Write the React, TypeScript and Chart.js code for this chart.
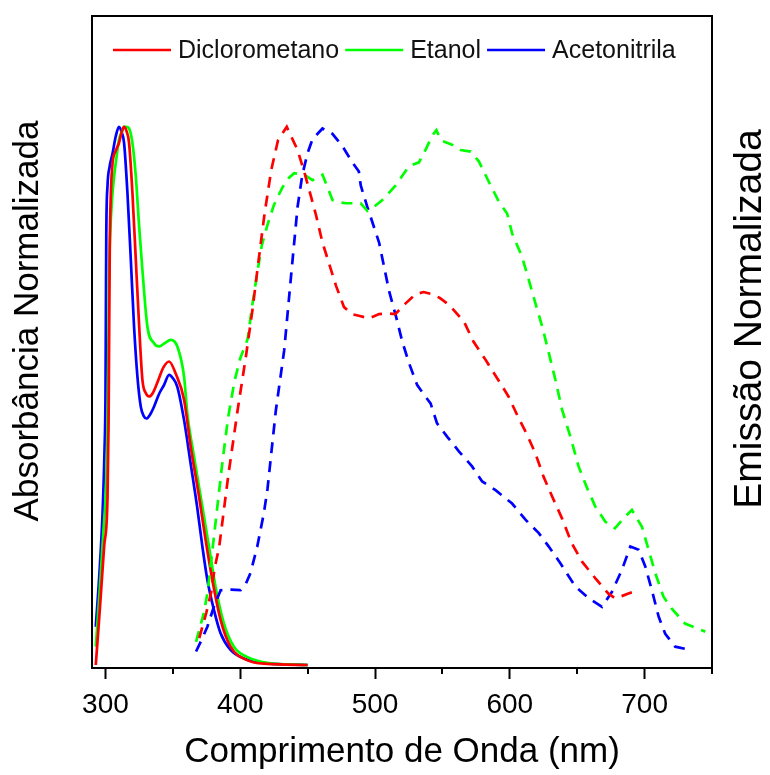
import React, { useEffect, useRef } from 'react';
import { Chart, registerables } from 'chart.js';

Chart.register(...registerables);

const FONT = "'Liberation Sans', Arial, Helvetica, sans-serif";

// ---- labels & colours ----
const seriesLabels = ['Diclorometano', 'Etanol', 'Acetonitrila'];
const seriesColors = ['#ff0000', '#00ff00', '#0000ff'];
const xAxisTitle = 'Comprimento de Onda (nm)';
const yLeftTitle = 'Absorbância Normalizada';
const yRightTitle = 'Emissão Normalizada';
const xMin = 290;
const xMax = 750;
const majorTickStep = 100;
const minorTickValues = [350, 450, 550, 650, 750];

// ---- absorption (solid) ----
const absDcmX = [292.8, 296, 299, 301.5, 302.3, 302.7, 303.2, 304, 305.2, 307.5, 310, 312, 313.8, 315.5, 317.5, 320, 322.5, 325, 327.4, 330, 332.4, 335, 338.5, 343, 347.2, 352, 358.3, 363.2, 369.4, 374.3, 379.3, 385.4, 392.8, 405, 420, 450];
const absDcmY = [0, 0.11, 0.22, 0.31, 0.45, 0.6, 0.78, 0.877, 0.932, 0.955, 0.97, 0.99, 1.0, 0.993, 0.97, 0.877, 0.753, 0.629, 0.53, 0.505, 0.499, 0.505, 0.525, 0.553, 0.564, 0.542, 0.493, 0.406, 0.313, 0.232, 0.158, 0.084, 0.034, 0.009, 0.002, 0];

const absEtOHX = [292.8, 296, 298.5, 300.5, 301.8, 302.5, 303.5, 305, 306.4, 308, 310, 312, 313.8, 315.5, 317.5, 320, 322.5, 325, 327.4, 331.1, 336, 339.8, 344, 348.4, 353.3, 358.3, 360.7, 365.7, 371.9, 376.8, 381.7, 387.9, 395.3, 405, 420, 450];
const absEtOHY = [0.034, 0.15, 0.25, 0.34, 0.5, 0.7, 0.8, 0.87, 0.908, 0.94, 0.976, 0.99, 1.0, 1.0, 0.997, 0.97, 0.908, 0.814, 0.734, 0.629, 0.598, 0.592, 0.598, 0.604, 0.592, 0.536, 0.468, 0.387, 0.294, 0.22, 0.145, 0.077, 0.034, 0.015, 0.004, 0];

const absMeCNX = [292.8, 295.5, 297.8, 299.3, 300.0, 300.3, 300.6, 301.5, 303, 305.2, 307.6, 310, 312, 313.8, 316.3, 318.8, 321.2, 323.7, 326.2, 328.5, 330.4, 333, 336, 340, 343.4, 347.2, 350, 353.3, 358.3, 363.2, 368, 371.9, 375.6, 380.5, 385.4, 392.8, 402.7, 420, 450];
const absMeCNY = [0.071, 0.17, 0.28, 0.4, 0.5, 0.65, 0.8, 0.89, 0.925, 0.95, 0.982, 1.0, 0.99, 0.97, 0.877, 0.753, 0.629, 0.536, 0.48, 0.462, 0.458, 0.465, 0.48, 0.505, 0.52, 0.539, 0.533, 0.517, 0.455, 0.374, 0.294, 0.22, 0.158, 0.102, 0.059, 0.028, 0.012, 0.003, 0];

// ---- emission (dashed) ----
const emDcmX = [369.6, 374.8, 378.5, 381, 384.4, 391, 398, 404, 409, 413.5, 418, 423, 428, 434.5, 442.5, 447.4, 452, 456, 461, 466, 471, 477, 483, 488, 495.6, 503, 510, 515, 522.7, 530, 536, 542.5, 548, 555, 566, 573, 582, 590.6, 599, 606.7, 612.8, 619, 625, 631.4, 638.8, 646, 653.6, 663.5, 673, 678, 683, 688, 692];
const emDcmY = [0.05, 0.097, 0.136, 0.18, 0.22, 0.35, 0.473, 0.57, 0.659, 0.75, 0.838, 0.92, 0.975, 1.0, 0.957, 0.917, 0.875, 0.838, 0.785, 0.745, 0.705, 0.665, 0.652, 0.649, 0.644, 0.652, 0.653, 0.652, 0.672, 0.689, 0.693, 0.689, 0.682, 0.669, 0.638, 0.601, 0.567, 0.533, 0.499, 0.458, 0.428, 0.393, 0.35, 0.313, 0.272, 0.226, 0.192, 0.161, 0.133, 0.124, 0.128, 0.133, 0.136];

const emEtOHX = [367.2, 373, 375.8, 381, 386.9, 391, 395.6, 400, 405.4, 409, 412.8, 416, 420.2, 425, 431.4, 436, 440, 447.4, 453.6, 461, 464.7, 468.4, 473, 478.3, 489.4, 494.3, 499, 505.4, 515.3, 525.2, 532.6, 538, 542.5, 545.5, 549, 554.8, 557, 563.4, 571, 577, 584.4, 591.9, 598, 601.7, 609, 614, 619, 624, 629, 633.8, 638.8, 645, 651, 657, 663.5, 670.9, 678, 685.7, 690.6, 698, 703, 708, 714, 720, 730, 745];
const emEtOHY = [0.043, 0.097, 0.136, 0.25, 0.38, 0.46, 0.526, 0.57, 0.605, 0.67, 0.732, 0.78, 0.818, 0.855, 0.888, 0.905, 0.914, 0.911, 0.901, 0.911, 0.888, 0.864, 0.86, 0.858, 0.858, 0.844, 0.851, 0.864, 0.891, 0.927, 0.934, 0.96, 0.984, 0.994, 0.975, 0.969, 0.967, 0.957, 0.954, 0.936, 0.898, 0.861, 0.839, 0.802, 0.759, 0.716, 0.672, 0.629, 0.579, 0.53, 0.474, 0.424, 0.369, 0.331, 0.294, 0.266, 0.254, 0.276, 0.288, 0.257, 0.214, 0.17, 0.127, 0.105, 0.077, 0.062];

const emMeCNX = [367.2, 371, 375.6, 380, 385.4, 393, 400.2, 404, 407.6, 412.6, 417.5, 420.2, 426.4, 432.6, 437.5, 442.5, 446, 449.9, 453.6, 461, 468.4, 475.8, 483.2, 488, 489.4, 494.3, 503, 510.4, 515.3, 520.2, 525.2, 531.3, 537, 541.2, 546, 553.6, 562.2, 572, 579.5, 589.4, 601.7, 611.6, 621.5, 628.9, 637.5, 648.6, 658.5, 668.4, 675.8, 683.2, 689.4, 695.6, 700.5, 705.4, 710.4, 715.3, 722.7, 733.8];
const emMeCNY = [0.025, 0.045, 0.071, 0.105, 0.139, 0.14, 0.139, 0.15, 0.171, 0.22, 0.282, 0.327, 0.473, 0.585, 0.718, 0.851, 0.91, 0.951, 0.977, 0.997, 0.987, 0.964, 0.934, 0.917, 0.891, 0.851, 0.785, 0.695, 0.65, 0.601, 0.561, 0.52, 0.5, 0.486, 0.449, 0.424, 0.397, 0.369, 0.341, 0.325, 0.3, 0.27, 0.245, 0.22, 0.189, 0.146, 0.124, 0.108, 0.136, 0.177, 0.22, 0.214, 0.183, 0.139, 0.09, 0.058, 0.034, 0.028];

const zip = (xs: number[], ys: number[]) => xs.map((x, i) => ({ x, y: ys[i] }));

const framePlugin = {
  id: 'frameTitlesLegend',
  afterDraw(chart: any) {
    const { ctx, chartArea } = chart;
    const { left, right, top, bottom } = chartArea;
    const xs = chart.scales.x;
    ctx.save();
    // frame
    ctx.strokeStyle = '#000';
    ctx.lineWidth = 2;
    ctx.setLineDash([]);
    ctx.strokeRect(left, top, right - left, bottom - top);
    // minor ticks
    for (const v of minorTickValues) {
      const px = Math.round(xs.getPixelForValue(v));
      ctx.beginPath();
      ctx.moveTo(px, bottom);
      ctx.lineTo(px, bottom + 6);
      ctx.stroke();
    }
    // y titles (both read bottom-to-top)
    ctx.fillStyle = '#000';
    ctx.textAlign = 'center';
    ctx.textBaseline = 'middle';
    ctx.font = `35px ${FONT}`;
    ctx.save();
    ctx.translate(left - 64, 321);
    ctx.rotate(-Math.PI / 2);
    ctx.fillText(yLeftTitle, 0, 0);
    ctx.restore();
    ctx.font = `39px ${FONT}`;
    ctx.save();
    ctx.translate(right + 38, 319);
    ctx.rotate(-Math.PI / 2);
    ctx.fillText(yRightTitle, 0, 0);
    ctx.restore();
    // legend (absorption series)
    ctx.font = `25px ${FONT}`;
    ctx.textAlign = 'left';
    const lineLen = 58;
    const gapLineText = 7;
    const gapItems = 6;
    const items = chart.data.datasets.filter((d: any) => d.showInLegend);
    let x = left + 21;
    const ly = top + 34;
    items.forEach((d: any) => {
      ctx.strokeStyle = d.borderColor;
      ctx.lineWidth = 2.4;
      ctx.beginPath();
      ctx.moveTo(x, ly);
      ctx.lineTo(x + lineLen, ly);
      ctx.stroke();
      x += lineLen + gapLineText;
      ctx.fillStyle = '#111';
      ctx.fillText(d.label, x, ly + 1);
      x += ctx.measureText(d.label).width + gapItems;
    });
    ctx.restore();
  },
};

export default function App() {
  const ref = useRef<HTMLCanvasElement>(null);
  useEffect(() => {
    const canvas = ref.current;
    if (!canvas) return;
    const absSets = [zip(absDcmX, absDcmY), zip(absEtOHX, absEtOHY), zip(absMeCNX, absMeCNY)];
    const emSets = [zip(emDcmX, emDcmY), zip(emEtOHX, emEtOHY), zip(emMeCNX, emMeCNY)];
    const datasets: any[] = [];
    emSets.forEach((pts, i) => {
      datasets.push({
        label: seriesLabels[i] + ' (emissão)',
        data: pts,
        borderColor: seriesColors[i],
        backgroundColor: seriesColors[i],
        borderWidth: 2.7,
        borderDash: [11, 8],
        pointRadius: 0,
        tension: 0,
        fill: false,
        showInLegend: false,
      });
    });
    absSets.forEach((pts, i) => {
      datasets.push({
        label: seriesLabels[i],
        data: pts,
        borderColor: seriesColors[i],
        backgroundColor: seriesColors[i],
        borderWidth: 2.7,
        pointRadius: 0,
        cubicInterpolationMode: 'monotone',
        fill: false,
        showInLegend: true,
      });
    });
    const chart = new Chart(canvas, {
      type: 'line',
      data: { datasets },
      options: {
        animation: false,
        responsive: false,
        devicePixelRatio: 1,
        parsing: false,
        layout: { padding: { left: 92, right: 58, top: 16, bottom: 0 } },
        plugins: { legend: { display: false }, tooltip: { enabled: false } },
        scales: {
          x: {
            type: 'linear',
            min: xMin,
            max: xMax,
            afterFit: (scale: any) => { scale.height = 107; },
            border: { display: false },
            grid: {
              display: true,
              drawOnChartArea: false,
              drawTicks: true,
              tickLength: 11,
              tickColor: '#000',
              tickWidth: 2,
            },
            ticks: {
              stepSize: majorTickStep,
              includeBounds: false,
              autoSkip: false,
              maxRotation: 0,
              padding: 9,
              color: '#000',
              font: { family: FONT, size: 28 },
              callback: (v: any) => String(v),
            },
            title: {
              display: true,
              text: xAxisTitle,
              color: '#000',
              font: { family: FONT, size: 35 },
              padding: { top: 0, bottom: 2 },
            },
          },
          y: {
            type: 'linear',
            display: false,
            min: -0.0056,
            max: 1.206,
          },
        },
      },
      plugins: [framePlugin],
    });
    return () => chart.destroy();
  }, []);
  return (
    <div style={{ position: 'fixed', left: 0, top: 0, width: 770, height: 775, background: '#fff' }}>
      <canvas ref={ref} width={770} height={775} style={{ display: 'block', width: 770, height: 775 }} />
    </div>
  );
}
